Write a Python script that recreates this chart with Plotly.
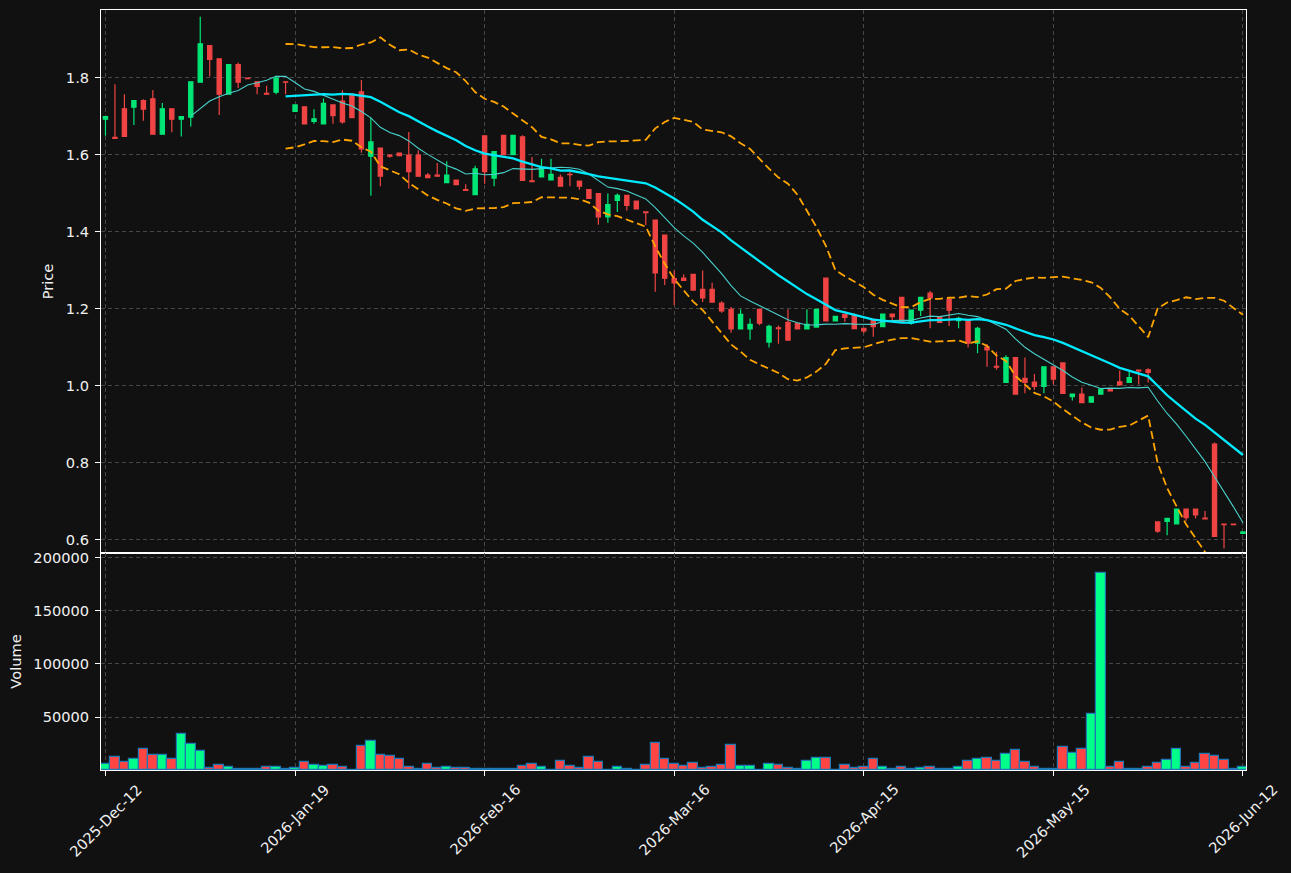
import plotly.graph_objects as go
import pandas as pd
import numpy as np

# ---- data ----
opens = [1.693,1.646,1.720,1.724,1.741,1.746,1.654,1.720,1.693,1.698,
         1.789,1.884,1.850,1.758,1.835,1.800,1.790,1.760,1.763,1.790,
         1.713,1.725,1.687,1.681,1.730,1.740,1.758,1.764,1.597,1.618,
         1.600,1.605,1.600,1.600,1.548,1.548,1.528,1.535,1.510,1.497,
         1.650,1.540,1.651,1.601,1.647,1.533,1.543,1.535,1.542,1.550,
         1.532,1.510,1.500,1.439,1.482,1.495,1.480,1.452,1.431,1.392,
         1.279,1.280,1.290,1.251,1.251,1.215,1.199,1.148,1.148,1.199,
         1.114,1.151,1.165,1.163,1.148,1.153,1.280,1.169,1.186,1.185,
         1.150,1.173,1.154,1.187,1.230,1.163,1.197,1.241,1.180,1.225,
         1.170,1.171,1.111,1.101,1.051,1.009,1.074,1.020,1.010,0.999,
         1.050,1.060,0.972,0.979,0.958,0.979,0.991,1.011,1.009,1.041,
         1.042,0.647,0.648,0.642,0.680,0.680,0.657,0.849,0.641,0.641,
         0.617]
highs = [1.700,1.784,1.758,1.741,1.745,1.769,1.735,1.720,1.700,1.790,
         1.959,1.884,1.850,1.835,1.840,1.800,1.790,1.780,1.806,1.790,
         1.730,1.725,1.719,1.747,1.730,1.768,1.758,1.795,1.697,1.618,
         1.600,1.605,1.660,1.612,1.553,1.579,1.584,1.535,1.524,1.572,
         1.650,1.609,1.651,1.651,1.651,1.595,1.590,1.590,1.549,1.558,
         1.532,1.510,1.500,1.500,1.500,1.495,1.480,1.452,1.431,1.392,
         1.300,1.290,1.290,1.300,1.268,1.220,1.205,1.199,1.175,1.199,
         1.159,1.157,1.199,1.163,1.199,1.199,1.280,1.181,1.186,1.189,
         1.150,1.173,1.187,1.187,1.230,1.197,1.230,1.247,1.180,1.225,
         1.180,1.171,1.154,1.109,1.089,1.080,1.074,1.074,1.031,1.050,
         1.050,1.060,0.979,0.996,0.972,0.992,0.991,1.040,1.040,1.041,
         1.046,0.647,0.656,0.680,0.680,0.680,0.675,0.853,0.641,0.641,
         0.621]
lows = [1.650,1.643,1.647,1.678,1.689,1.654,1.654,1.659,1.648,1.674,
        1.789,1.804,1.704,1.758,1.774,1.798,1.758,1.758,1.758,1.758,
        1.713,1.681,1.681,1.681,1.681,1.681,1.697,1.606,1.494,1.519,
        1.593,1.598,1.513,1.545,1.541,1.545,1.528,1.523,1.508,1.497,
        1.525,1.519,1.601,1.601,1.534,1.531,1.543,1.535,1.519,1.519,
        1.510,1.487,1.419,1.424,1.452,1.456,1.460,1.418,1.245,1.262,
        1.210,1.273,1.249,1.218,1.218,1.190,1.138,1.148,1.120,1.158,
        1.100,1.110,1.119,1.148,1.148,1.153,1.169,1.169,1.166,1.148,
        1.137,1.128,1.154,1.171,1.167,1.159,1.182,1.150,1.165,1.156,
        1.150,1.100,1.085,1.050,1.042,1.009,0.979,0.981,0.990,0.981,
        1.004,0.981,0.962,0.957,0.958,0.979,0.987,1.003,1.009,1.004,
        1.009,0.619,0.612,0.642,0.650,0.656,0.655,0.609,0.578,0.640,
        0.617]
closes = [1.700,1.643,1.648,1.741,1.719,1.654,1.720,1.693,1.700,1.790,
          1.889,1.848,1.758,1.835,1.789,1.798,1.778,1.758,1.800,1.789,
          1.730,1.681,1.694,1.734,1.702,1.686,1.697,1.616,1.634,1.545,
          1.597,1.598,1.557,1.545,1.541,1.545,1.548,1.523,1.508,1.564,
          1.557,1.609,1.601,1.651,1.534,1.531,1.567,1.550,1.519,1.549,
          1.519,1.487,1.439,1.471,1.495,1.469,1.460,1.450,1.294,1.280,
          1.268,1.274,1.249,1.229,1.218,1.195,1.148,1.186,1.160,1.163,
          1.155,1.149,1.119,1.148,1.160,1.199,1.169,1.181,1.178,1.149,
          1.143,1.154,1.187,1.180,1.167,1.197,1.230,1.229,1.165,1.197,
          1.176,1.111,1.150,1.094,1.049,1.074,0.979,1.009,0.999,1.050,
          1.018,0.981,0.979,0.957,0.972,0.992,0.987,1.003,1.022,1.039,
          1.035,0.623,0.656,0.680,0.658,0.665,0.655,0.609,0.640,0.640,
          0.621]
volumes = [5350,11950,7230,10060,19500,13840,13840,10060,33650,24220,
           17610,1570,4400,2520,800,800,800,2500,2500,800,
           1500,7230,4400,3460,4400,2500,300,22330,27050,13840,
           12900,10060,2500,600,5350,1570,2500,1570,1570,600,
           1200,900,900,900,3460,5350,2500,300,8180,3460,
           1570,11950,7230,300,2500,600,300,4400,25160,10060,
           5350,3460,6290,1570,2500,4400,23270,3460,3460,300,
           5350,4400,1570,600,8180,11000,11000,300,4400,1570,
           3300,10060,3145,600,3145,600,1570,3145,600,600,
           3145,8180,10060,11000,8180,14780,18560,7230,3145,600,
           600,21390,15730,19500,52520,185550,2500,7230,600,600,
           2500,6290,9120,19500,2500,6290,14780,12900,9120,1260,
           2500]
tick_positions = [0, 20, 40, 60, 80, 100, 120]
tick_labels = ["2025-Dec-12", "2026-Jan-19", "2026-Feb-16", "2026-Mar-16",
               "2026-Apr-15", "2026-May-15", "2026-Jun-12"]
price_ticks = [0.6, 0.8, 1.0, 1.2, 1.4, 1.6, 1.8]
volume_ticks = [50000, 100000, 150000, 200000]

# ---- derived indicators ----
n = len(closes)
idx = list(range(n))
cs = pd.Series(closes)
ma10 = cs.rolling(10).mean()
ma20 = cs.rolling(20).mean()
sd20 = cs.rolling(20).std()
bb_up = ma20 + 2 * sd20
bb_lo = ma20 - 2 * sd20

UP = "#00e676"
DOWN = "#f04444"
vol_colors = ["#00ff88" if c >= o else "#ff4444" for o, c in zip(opens, closes)]

GRID = "rgba(85,85,85,0.8)"
FONT = dict(family="DejaVu Sans", size=14.6, color="#f0f0f0")

fig = go.Figure()
fig.add_trace(go.Candlestick(
    x=idx, open=opens, high=highs, low=lows, close=closes,
    increasing=dict(line=dict(color=UP, width=1.2), fillcolor=UP),
    decreasing=dict(line=dict(color=DOWN, width=1.2), fillcolor=DOWN),
    showlegend=False, xaxis="x", yaxis="y"))
fig.add_trace(go.Scatter(x=idx, y=bb_up, mode="lines",
                         line=dict(color="#ffa500", width=1.8, dash="8px,4px"),
                         showlegend=False, xaxis="x", yaxis="y"))
fig.add_trace(go.Scatter(x=idx, y=bb_lo, mode="lines",
                         line=dict(color="#ffa500", width=1.8, dash="8px,4px"),
                         showlegend=False, xaxis="x", yaxis="y"))
fig.add_trace(go.Scatter(x=idx, y=ma10, mode="lines",
                         line=dict(color="#48d1cc", width=1.1),
                         showlegend=False, xaxis="x", yaxis="y"))
fig.add_trace(go.Scatter(x=idx, y=ma20, mode="lines",
                         line=dict(color="#00eaff", width=2.3),
                         showlegend=False, xaxis="x", yaxis="y"))
fig.add_trace(go.Bar(x=idx, y=volumes, width=1.0,
                     marker=dict(color=vol_colors, line=dict(color="#1f77b4", width=1.2)),
                     showlegend=False, xaxis="x2", yaxis="y2"))

split = (770 - 553) / (770 - 10)
xrange_ = [-0.47, 120.32]

common_x = dict(range=xrange_, tickvals=tick_positions, showgrid=True,
                gridcolor=GRID, griddash="4px,3px", gridwidth=1, zeroline=False,
                showline=True, linecolor="white", linewidth=1, mirror=True,
                automargin=False)
common_y = dict(showgrid=True, gridcolor=GRID, griddash="4px,3px", gridwidth=1,
                zeroline=False, showline=True, linecolor="white", linewidth=1,
                mirror=True, ticks="outside", ticklen=5, tickcolor="white",
                tickfont=FONT, ticklabelstandoff=3, automargin=False)

annotations = [
    dict(x=p, y=0, xref="x2", yref="paper", text=t, showarrow=False,
         textangle=-45, xanchor="center", yanchor="top", yshift=-8,
         font=FONT)
    for p, t in zip(tick_positions, tick_labels)
]

fig.update_layout(
    width=1291, height=873,
    margin=dict(l=101, r=45, t=10, b=103, autoexpand=False),
    paper_bgcolor="#111111", plot_bgcolor="#111111",
    font=FONT, boxgap=0.36, bargap=0,
    annotations=annotations,
    xaxis=dict(domain=[0, 1], anchor="y", showticklabels=False, ticks="",
               rangeslider=dict(visible=False), **common_x),
    xaxis2=dict(domain=[0, 1], anchor="y2", matches="x", showticklabels=False,
                ticks="outside", ticklen=5, tickcolor="white", **common_x),
    yaxis=dict(domain=[split, 1], range=[0.5662, 1.9766], tickvals=price_ticks,
               ticktext=[f"{v:.1f}" for v in price_ticks],
               title=dict(text="Price", font=FONT, standoff=8), **common_y),
    yaxis2=dict(domain=[0, split], range=[0, 204700], tickvals=volume_ticks,
                ticktext=[str(v) for v in volume_ticks],
                title=dict(text="Volume", font=FONT, standoff=8), **common_y),
)

fig.write_html("out.html")
